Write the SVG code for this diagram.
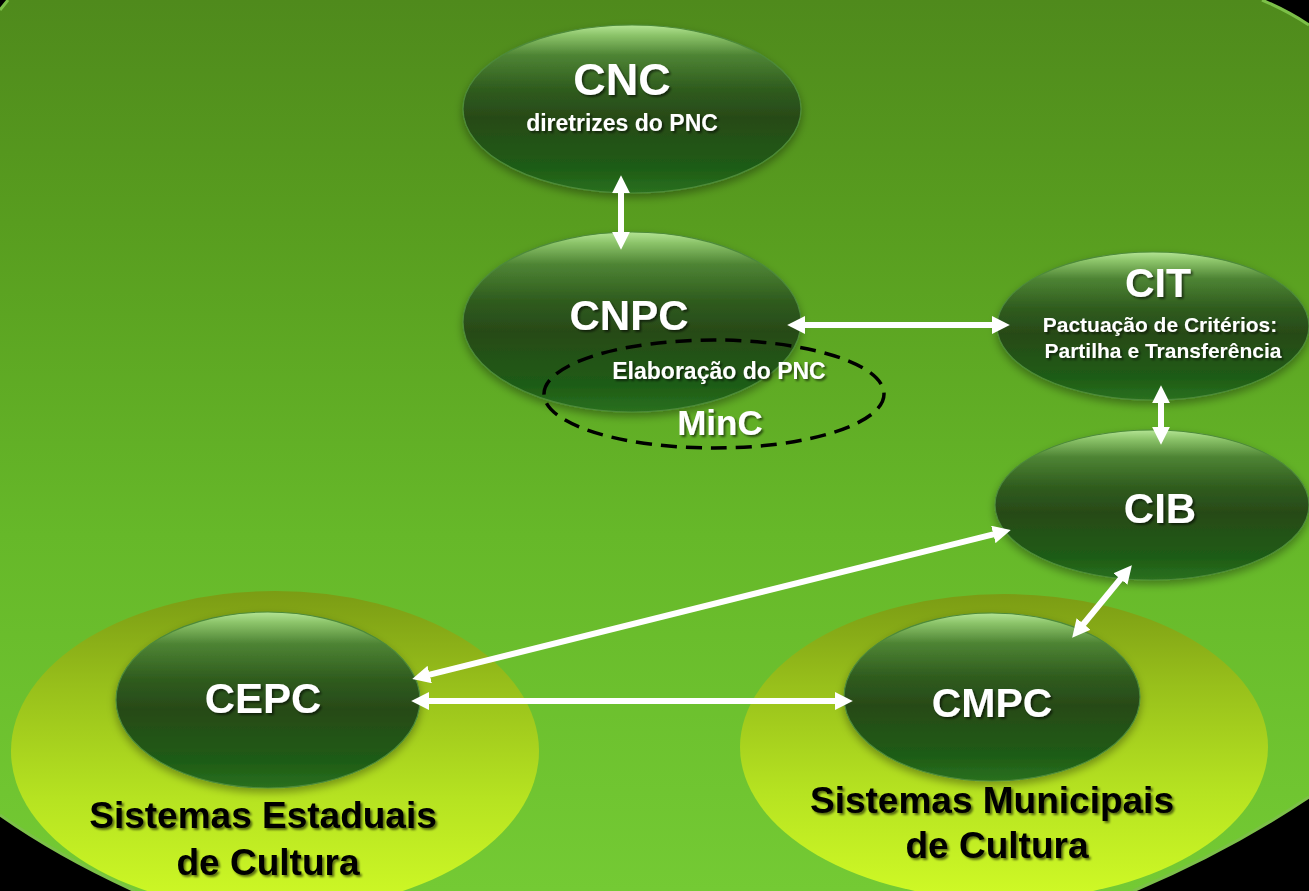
<svg xmlns="http://www.w3.org/2000/svg" width="1309" height="891" viewBox="0 0 1309 891">
<defs>
<linearGradient id="bg" x1="0" y1="0" x2="0" y2="1">
<stop offset="0" stop-color="#4f8a1c"/>
<stop offset="0.25" stop-color="#589d1f"/>
<stop offset="0.6" stop-color="#66b829"/>
<stop offset="1" stop-color="#74ca34"/>
</linearGradient>
<linearGradient id="sys" x1="0" y1="0" x2="0" y2="1">
<stop offset="0" stop-color="#7b9c14"/>
<stop offset="0.3" stop-color="#98c01b"/>
<stop offset="0.65" stop-color="#b6e321"/>
<stop offset="1" stop-color="#d0fa26"/>
</linearGradient>
<linearGradient id="node" x1="0" y1="0" x2="0" y2="1">
<stop offset="0" stop-color="#b4e494"/>
<stop offset="0.06" stop-color="#8cc46a"/>
<stop offset="0.18" stop-color="#4e8434"/>
<stop offset="0.38" stop-color="#2f5c1e"/>
<stop offset="0.55" stop-color="#284a18"/>
<stop offset="0.85" stop-color="#1e5c14"/>
<stop offset="1" stop-color="#2a7020"/>
</linearGradient>
<filter id="nshadow" x="-20%" y="-20%" width="140%" height="150%">
<feDropShadow dx="0" dy="4" stdDeviation="4" flood-color="#000" flood-opacity="0.35"/>
</filter>
<filter id="tshadow" x="-10%" y="-30%" width="120%" height="160%">
<feDropShadow dx="2" dy="2" stdDeviation="1.2" flood-color="#000" flood-opacity="0.55"/>
</filter>
<marker id="ah" viewBox="0 0 10 10" markerWidth="3" markerHeight="3" refX="4" refY="5" orient="auto-start-reverse" markerUnits="strokeWidth">
<path d="M0,0 L10,5 L0,10 Z" fill="#ffffff"/>
</marker>
<style>
.node{fill:url(#node);stroke:#4d8a3a;stroke-width:1.2;filter:url(#nshadow);}
.sys{fill:url(#sys);}
.wt{font-family:"Liberation Sans",Arial,sans-serif;font-weight:bold;fill:#ffffff;text-anchor:middle;filter:url(#tshadow);}
.bt{font-family:"Liberation Sans",Arial,sans-serif;font-weight:bold;fill:#000000;text-anchor:middle;font-size:37px;filter:url(#tshadow);}
.conn{stroke:#ffffff;stroke-width:6;fill:none;marker-start:url(#ah);marker-end:url(#ah);}
</style>
</defs>
<rect x="0" y="0" width="1309" height="891" fill="#000000"/>
<path d="M8,0 L1262,0 Q1288,11 1309,25 L1309,797 Q1228,851 1133,891 L135,891 Q58,856 0,815 L0,10 Z" fill="url(#bg)"/>
<path d="M1262,0 Q1288,11 1309,25 M1309,797 Q1228,851 1133,891 M135,891 Q58,856 0,815 M0,10 L8,0" fill="none" stroke="#7cc048" stroke-width="3"/>

<g id="sistemas-estaduais">
<ellipse class="sys" cx="275" cy="751" rx="264" ry="160"/>
<text class="bt" x="263" y="828">Sistemas Estaduais</text>
<text class="bt" x="268" y="875">de Cultura</text>
</g>
<g id="sistemas-municipais">
<ellipse class="sys" cx="1004" cy="747" rx="264" ry="153"/>
<text class="bt" x="992" y="813">Sistemas Municipais</text>
<text class="bt" x="997" y="858">de Cultura</text>
</g>

<g id="cnc">
<ellipse class="node" cx="632" cy="109" rx="169" ry="84"/>
<text class="wt" x="622" y="95" font-size="45">CNC</text>
<text class="wt" x="622" y="131" font-size="23">diretrizes do PNC</text>
</g>
<g id="cnpc">
<ellipse class="node" cx="632" cy="322" rx="169" ry="90"/>
<text class="wt" x="629" y="330" font-size="42">CNPC</text>
</g>
<g id="minc">
<ellipse cx="714" cy="394" rx="170" ry="54" fill="none" stroke="#000000" stroke-width="3.5" stroke-dasharray="16 9"/>
<text class="wt" x="719" y="379" font-size="23">Elaboração do PNC</text>
<text class="wt" x="720" y="435" font-size="35">MinC</text>
</g>
<g id="cit">
<ellipse class="node" cx="1153" cy="326" rx="156" ry="74"/>
<text class="wt" x="1158" y="297" font-size="41">CIT</text>
<text class="wt" x="1160" y="332" font-size="21">Pactuação de Critérios:</text>
<text class="wt" x="1163" y="358" font-size="21">Partilha e Transferência</text>
</g>
<g id="cib">
<ellipse class="node" cx="1152" cy="505" rx="157" ry="75"/>
<text class="wt" x="1160" y="523" font-size="42">CIB</text>
</g>
<g id="cepc">
<ellipse class="node" cx="268" cy="700" rx="152" ry="88"/>
<text class="wt" x="263" y="713" font-size="42">CEPC</text>
</g>
<g id="cmpc">
<ellipse class="node" cx="992" cy="697" rx="148" ry="84"/>
<text class="wt" x="992" y="717" font-size="41">CMPC</text>
</g>

<g id="connectors">
<line class="conn" x1="621" y1="186" x2="621" y2="239"/>
<line class="conn" x1="798" y1="325" x2="999" y2="325"/>
<line class="conn" x1="1161" y1="396" x2="1161" y2="434"/>
<line class="conn" x1="422.7" y1="676.3" x2="1000.3" y2="532.7"/>
<line class="conn" x1="422" y1="701" x2="842" y2="701"/>
<line class="conn" x1="1079" y1="629.5" x2="1125" y2="573.5"/>
</g>
</svg>
